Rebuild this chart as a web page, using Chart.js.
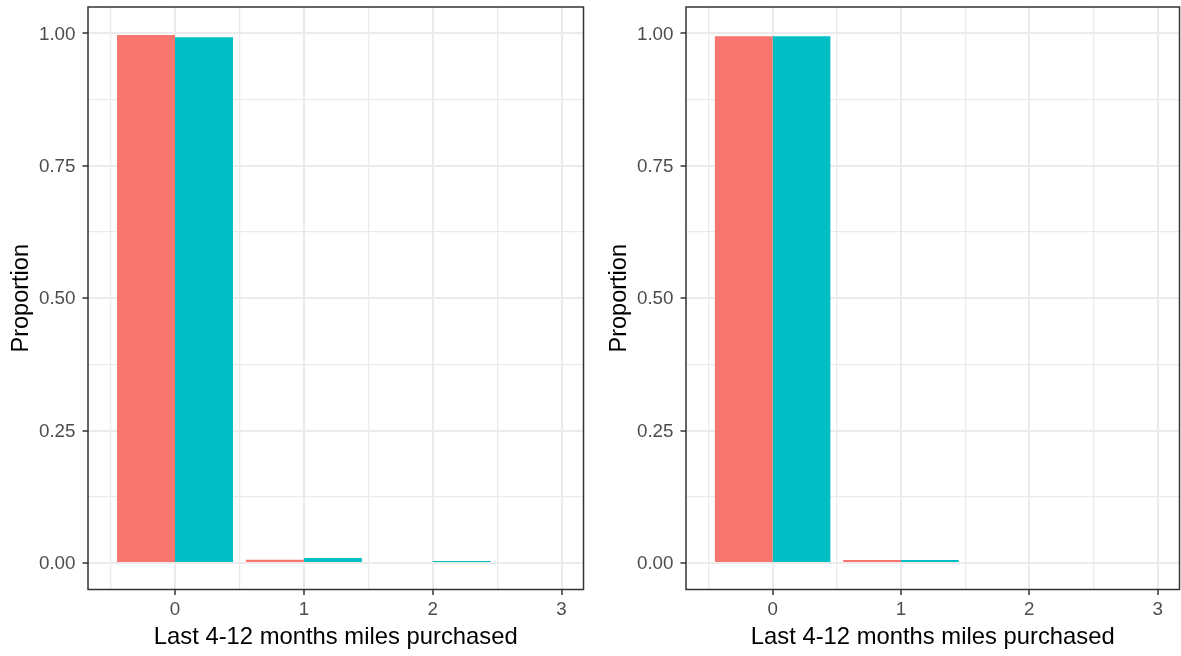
<!DOCTYPE html>
<html>
<head>
<meta charset="utf-8">
<script src="https://cdn.jsdelivr.net/npm/chart.js@4/dist/chart.umd.min.js"></script>
<style>
  html, body { margin: 0; padding: 0; background: #ffffff; }
  #wrap { position: relative; width: 1181px; height: 656px; overflow: hidden; background: #ffffff; }
  canvas { position: absolute; top: 0; }
</style>
</head>
<body>
<div id="wrap">
  <canvas id="leftPanel" width="600" height="656" style="left:0px"></canvas>
  <canvas id="rightPanel" width="583" height="656" style="left:598px"></canvas>
</div>
<script>
// Miles-purchased categories on the x axis
const milesPurchased = [0, 1, 2, 3];

// Proportions per group, left panel
const leftRed  = [0.997, 0.006, 0, 0];
const leftCyan = [0.993, 0.0095, 0.0038, 0];

// Proportions per group, right panel
const rightRed  = [0.995, 0.0058, 0, 0];
const rightCyan = [0.995, 0.0058, 0, 0];

// Tick / grid positions
const yMajorTicks = [0, 0.25, 0.5, 0.75, 1];
const yMinorTicks = [0.125, 0.375, 0.625, 0.875];
const xMajorTicks = [0, 1, 2, 3];
const xMinorTicks = [-0.5, 0.5, 1.5, 2.5];

const xTitle = 'Last 4-12 months miles purchased';
const yTitle = 'Proportion';

const FONT = '"Liberation Sans", Arial, Helvetica, sans-serif';
const GRID = '#EBEBEB';
const INK = '#333333';

function isMajor(list, v) {
  return list.some(t => Math.abs(t - v) < 1e-9);
}

function allTicks(minor, major) {
  return [...minor, ...major].sort((a, b) => a - b).map(v => ({ value: v }));
}

// Dark frame around the plotting panel
const panelBorder = {
  id: 'panelBorder',
  afterDraw(chart) {
    const { ctx, chartArea: a } = chart;
    ctx.save();
    ctx.strokeStyle = INK;
    ctx.lineWidth = 1.5;
    ctx.strokeRect(a.left, a.top, a.right - a.left, a.bottom - a.top);
    ctx.restore();
  }
};

function panelConfig(red, cyan, padRight) {
  return {
    type: 'bar',
    data: {
      datasets: [
        {
          data: milesPurchased.map((x, i) => ({ x: x, y: red[i] })),
          backgroundColor: '#F8766D',
          borderWidth: 0
        },
        {
          data: milesPurchased.map((x, i) => ({ x: x, y: cyan[i] })),
          backgroundColor: '#00BFC4',
          borderWidth: 0
        }
      ]
    },
    options: {
      responsive: false,
      animation: false,
      events: [],
      // the bar ruler measures the half-unit grid spacing, so a dodged pair
      // spanning 0.9 units is 1.8 of that spacing
      categoryPercentage: 1.8,
      barPercentage: 1.0,
      layout: { padding: { top: 7, right: padRight, bottom: 0, left: 0 } },
      plugins: {
        legend: { display: false },
        tooltip: { enabled: false }
      },
      scales: {
        x: {
          type: 'linear',
          min: -0.675,
          max: 3.17,
          offset: false,
          afterBuildTicks: s => { s.ticks = allTicks(xMinorTicks, xMajorTicks); },
          afterFit: s => {
            s.height = 66.5;
            s.paddingLeft = 0; s.paddingRight = 0;
            s.paddingTop = 0; s.paddingBottom = 0;
          },
          border: { display: false },
          grid: {
            offset: false,
            color: GRID,
            lineWidth: c => (c.tick && isMajor(xMajorTicks, c.tick.value)) ? 2 : 1.3,
            drawTicks: true,
            tickLength: 5.5,
            tickWidth: 1.5,
            tickColor: c => (c.tick && isMajor(xMajorTicks, c.tick.value)) ? INK : 'rgba(0,0,0,0)'
          },
          ticks: {
            autoSkip: false,
            maxRotation: 0,
            minRotation: 0,
            padding: 4,
            color: '#4D4D4D',
            font: { family: FONT, size: 18.8 },
            callback: v => isMajor(xMajorTicks, v) ? String(Math.round(v)) : ''
          },
          title: {
            display: true,
            text: xTitle,
            color: '#000000',
            font: { family: FONT, size: 23.8, lineHeight: 1 },
            padding: { top: 0, bottom: 7 }
          }
        },
        y: {
          type: 'linear',
          position: 'left',
          min: -0.05,
          max: 1.05,
          afterBuildTicks: s => { s.ticks = allTicks(yMinorTicks, yMajorTicks); },
          afterFit: s => {
            s.width = 88;
            s.paddingLeft = 0; s.paddingRight = 0;
            s.paddingTop = 0; s.paddingBottom = 0;
          },
          border: { display: false },
          grid: {
            color: GRID,
            lineWidth: c => (c.tick && isMajor(yMajorTicks, c.tick.value)) ? 2 : 1.3,
            drawTicks: true,
            tickLength: 5.5,
            tickWidth: 1.5,
            tickColor: c => (c.tick && isMajor(yMajorTicks, c.tick.value)) ? INK : 'rgba(0,0,0,0)'
          },
          ticks: {
            autoSkip: false,
            padding: 7,
            labelOffset: 1,
            color: '#4D4D4D',
            font: { family: FONT, size: 18.8 },
            callback: v => isMajor(yMajorTicks, v) ? v.toFixed(2) : ''
          },
          title: {
            display: true,
            text: yTitle,
            color: '#000000',
            font: { family: FONT, size: 23.5, lineHeight: 1 },
            padding: { top: 9.75, bottom: 0 }
          }
        }
      }
    },
    plugins: [panelBorder]
  };
}

new Chart(document.getElementById('leftPanel'), panelConfig(leftRed, leftCyan, 16.5));
new Chart(document.getElementById('rightPanel'), panelConfig(rightRed, rightCyan, 1.5));
</script>
</body>
</html>
